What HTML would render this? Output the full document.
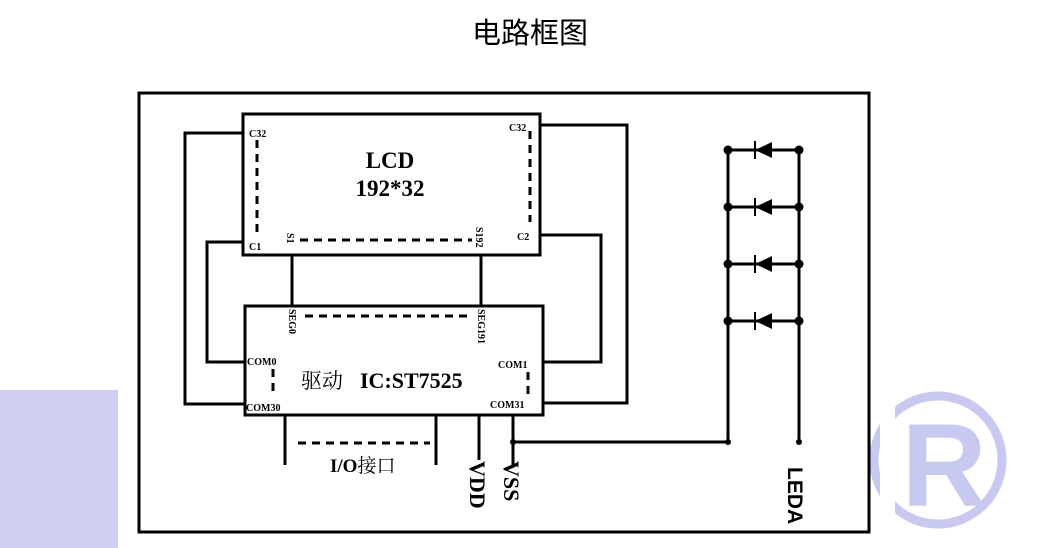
<!DOCTYPE html>
<html><head><meta charset="utf-8"><style>body{margin:0;background:#fff}svg{display:block}</style></head><body>
<svg width="1046" height="548" viewBox="0 0 1046 548" xmlns="http://www.w3.org/2000/svg" font-family="Liberation Serif, Noto Serif CJK SC, serif">
<rect x="0" y="390" width="118" height="158" fill="#cfd0f0"/>
<circle cx="938" cy="460" r="64" fill="none" stroke="#c8c9f0" stroke-width="9"/>
<text x="944" y="506" text-anchor="middle" font-family="Liberation Sans, sans-serif" font-weight="bold" font-size="118" fill="#c8c9f0">R</text>
<rect x="880" y="380" width="15" height="168" fill="#fff"/>
<text x="530" y="43" text-anchor="middle" font-family="Liberation Sans, Noto Sans CJK SC, sans-serif" font-size="29">电路框图</text>
<g stroke="#000" stroke-width="3" fill="none">
<rect x="139" y="93" width="730" height="439"/>
<rect x="243" y="114" width="297" height="141"/>
<rect x="245" y="306" width="298" height="109"/>
<polyline points="243,133 185,133 185,404 245,404"/>
<polyline points="243,242 207,242 207,362 245,362"/>
<polyline points="540,125 627,125 627,403 543,403"/>
<polyline points="540,235 601,235 601,362 543,362"/>
<line x1="292" y1="255" x2="292" y2="306"/>
<line x1="481" y1="255" x2="481" y2="306"/>
<line x1="285" y1="415" x2="285" y2="465"/>
<line x1="436" y1="415" x2="436" y2="465"/>
<line x1="479" y1="415" x2="479" y2="460"/>
<line x1="513" y1="415" x2="513" y2="465"/>
<polyline points="513,442 728,442 728,150"/>
<line x1="799" y1="150" x2="799" y2="442"/>
<line x1="728" y1="150" x2="799" y2="150"/>
<line x1="728" y1="207" x2="799" y2="207"/>
<line x1="728" y1="264" x2="799" y2="264"/>
<line x1="728" y1="321" x2="799" y2="321"/>
</g>
<g stroke="#000" stroke-width="3" stroke-dasharray="8,6" fill="none">
<line x1="257" y1="140" x2="257" y2="238"/>
<line x1="530" y1="131" x2="530" y2="222"/>
<line x1="300" y1="240" x2="472" y2="240"/>
<line x1="305" y1="316" x2="470" y2="316"/>
<line x1="273" y1="369" x2="273" y2="396"/>
<line x1="528" y1="372" x2="528" y2="394"/>
<line x1="298" y1="443" x2="430" y2="443"/>
</g>
<g fill="#000">
<circle cx="513" cy="442" r="3"/><circle cx="728" cy="442" r="3"/><circle cx="799" cy="442" r="3"/>
<g id="d">
<circle cx="728" cy="150" r="4.5"/><circle cx="799" cy="150" r="4.5"/>
<polygon points="755,150 772,142 772,158"/>
<rect x="754" y="141" width="2" height="18"/>
</g>
<use href="#d" y="57"/><use href="#d" y="114"/><use href="#d" y="171"/>
</g>
<g font-weight="bold" fill="#000">
<text x="390" y="168" text-anchor="middle" font-size="23">LCD</text>
<text x="390" y="196" text-anchor="middle" font-size="23">192*32</text>
<text x="249" y="137" font-size="10">C32</text>
<text x="249" y="250" font-size="10">C1</text>
<text x="509" y="131" font-size="10">C32</text>
<text x="517" y="240" font-size="10">C2</text>
<text transform="translate(287,233) rotate(90)" font-size="10">S1</text>
<text transform="translate(476,227) rotate(90)" font-size="10">S192</text>
<text transform="translate(289,309) rotate(90)" font-size="10">SEG0</text>
<text transform="translate(478,309) rotate(90)" font-size="10">SEG191</text>
<text x="247" y="365" font-size="10">COM0</text>
<text x="246" y="411" font-size="10">COM30</text>
<text x="498" y="368" font-size="10">COM1</text>
<text x="490" y="408" font-size="10">COM31</text>
<text x="301" y="388" font-size="21" font-weight="normal">驱动</text>
<text x="360" y="388" font-size="22">IC:ST7525</text>
<text x="330" y="472" font-size="19">I/O<tspan font-weight="normal">接口</tspan></text>
<text transform="translate(470,461) rotate(90)" font-size="22">VDD</text>
<text transform="translate(504,461) rotate(90)" font-size="22">VSS</text>
<text transform="translate(788,467) rotate(90)" font-family="Liberation Sans, sans-serif" font-size="21">LEDA</text>
</g>
</svg>
</body></html>
